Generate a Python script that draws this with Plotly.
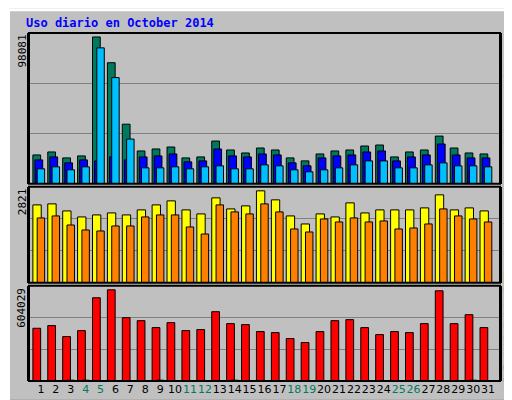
import plotly.graph_objects as go

days = list(range(1, 32))
day_labels = [str(d) for d in days]
weekend = [4, 5, 11, 12, 18, 19, 25, 26]

hits = [18700, 20650, 16780, 18070, 95500, 78730, 38720, 21300, 22590, 23880, 16780, 17420, 27750, 21940, 20000, 23230,
        21940, 16780, 14840, 19360, 21300, 21940, 24520, 25170, 17420, 20650, 21940, 30970, 23230, 20000, 19360]
files = [15490, 17420, 13550, 15490, 14840, 17420, 15490, 17420, 18070, 19360, 14200, 14840, 22590, 18070, 17420, 19360,
         18710, 13550, 11620, 16780, 18070, 18710, 20650, 21300, 14840, 17420, 18710, 25810, 18710, 16780, 16780]
pages = [9680, 10970, 9030, 10970, 88400, 69050, 29040, 10320, 10320, 10970, 9680, 10970, 11620, 9680, 9680, 12260,
         11620, 9030, 7740, 9030, 10320, 12260, 14840, 14840, 10320, 10320, 12260, 13550, 11620, 11620, 10970]
visitors = [2290, 2320, 2113, 1936, 1995, 2054, 1995, 2143, 2290, 2408, 2143, 2025, 2497, 2172, 2261, 2703,
            2438, 1966, 1730, 2025, 1936, 2349, 2054, 2143, 2143, 2143, 2202, 2585, 2143, 2202, 2113]
visits = [1907, 1966, 1700, 1553, 1524, 1671, 1671, 1936, 1995, 1995, 1642, 1435, 2290, 2084, 2025, 2320,
          2084, 1583, 1494, 1877, 1789, 1907, 1789, 1818, 1583, 1612, 1730, 2172, 1966, 1877, 1789]
kb = [334630, 351470, 282020, 319900, 528250, 578770, 401980, 383040, 338840, 370410, 319900, 326210, 439860, 364100,
      357780, 313590, 307270, 269390, 244130, 313590, 383040, 389350, 338840, 294640, 313590, 307270, 364100, 572450,
      364100, 420920, 338840]
kb_small = [0, 0, 5000, 5000, 0, 0, 0, 0, 5000, 0, 0, 0, 0, 5000, 0, 0, 0, 0, 0, 0, 0, 0, 0, 0, 0, 0, 0, 0, 0, 5000, 0]
max_top, max_mid, max_bot = 98081, 2821, 604029

fig = go.Figure()
line = dict(color="black", width=1)

def bar(y, color, off, w, ya):
    fig.add_trace(go.Bar(x=days, y=y, marker=dict(color=color, line=line), offset=off, width=w,
                         xaxis="x", yaxis=ya, showlegend=False, hoverinfo="skip"))

bar(hits, "#007a5e", -0.54, 0.52, "y")
bar(files, "#0000ff", -0.4, 0.52, "y")
bar(pages, "#00bfff", -0.25, 0.5, "y")
bar(visitors, "#ffff00", -0.54, 0.56, "y2")
bar(visits, "#ff8000", -0.25, 0.5, "y2")
bar(kb, "#ff0000", -0.54, 0.52, "y3")
bar(kb_small, "#000000", -0.25, 0.5, "y3")

ticktext = [f"<span style='color:#007a5e'>{t}</span>" if d in weekend else t for d, t in zip(days, day_labels)]
fig.update_layout(
    width=512, height=400, margin=dict(l=21, r=20, t=25, b=24),
    paper_bgcolor="#c0c0c0", plot_bgcolor="#c0c0c0", barmode="overlay",
    font=dict(family="DejaVu Sans Mono", size=11, color="black"),
    xaxis=dict(range=[0.2, 31.8], tickvals=days, ticktext=ticktext, ticks="", showgrid=False, tickangle=0,
               tickfont=dict(family="DejaVu Sans", size=11),
               anchor="y3", showline=False, zeroline=False, fixedrange=True),
)
ax = dict(showticklabels=False, ticks="", gridcolor="#808080", gridwidth=1, zeroline=False,
          showline=True, linecolor="black", linewidth=2, mirror=True)
fig.update_layout(
    yaxis=dict(range=[0, max_top], domain=[0.567, 1], tickvals=[max_top / 3, 2 * max_top / 3], **ax),
    yaxis2=dict(range=[0, max_mid], domain=[0.282, 0.558], tickvals=[max_mid / 3, 2 * max_mid / 3], **ax),
    yaxis3=dict(range=[0, max_bot], domain=[0, 0.2735], tickvals=[max_bot / 3, 2 * max_bot / 3], **ax),
)
for d0, d1 in [(0.567, 1), (0.282, 0.558), (0, 0.2735)]:
    fig.add_shape(type="rect", xref="paper", yref="paper", x0=0, x1=1, y0=d0, y1=d1,
                  line=dict(color="black", width=2), layer="above")

W, H = 471, 351
def px(x): return (x - 21) / W
def py(y): return (376 - y) / H
fig.add_shape(type="line", xref="paper", yref="paper", x0=px(0), x1=px(507), y0=py(1.5), y1=py(1.5),
              line=dict(color="white", width=3))
fig.add_shape(type="line", xref="paper", yref="paper", x0=px(1), x1=px(1), y0=py(0), y1=py(396),
              line=dict(color="white", width=2))
fig.add_shape(type="line", xref="paper", yref="paper", x0=px(509), x1=px(509), y0=py(2), y1=py(400),
              line=dict(color="#808080", width=5))
fig.add_shape(type="line", xref="paper", yref="paper", x0=px(2), x1=px(512), y0=py(397.5), y1=py(397.5),
              line=dict(color="#808080", width=5))

fig.add_annotation(text="<b>Uso diario en October 2014</b>", xref="paper", yref="paper", x=px(16), y=py(15),
                   xanchor="left", yanchor="middle", showarrow=False,
                   font=dict(family="DejaVu Sans Mono", size=12, color="#0000ff"))
for val, top in [(max_top, 25), (max_mid, 180), (max_bot, 280)]:
    fig.add_annotation(text=str(val), textangle=-90, xref="paper", yref="paper", x=px(14), y=py(top),
                       xanchor="center", yanchor="top", showarrow=False,
                       font=dict(family="DejaVu Sans Mono", size=11, color="black"))
labels = [
    ("<span style='color:#00bfff'>Páginas</span> / <span style='color:#0000ff'>Archivos</span> / "
     "<span style='color:#007a5e'>Accesos</span>", 104),
    ("<span style='color:#ff8000'>Clientes</span> / <span style='color:#ffff00'>Visitas</span>", 222),
    ("<span style='color:#ff0000'>kB F</span> / <span style='color:#0000ff'>kB In</span> / "
     "<span style='color:#007a5e'>kB Out</span>", 320),
]
for t, yc in labels:
    fig.add_annotation(text=t, textangle=-90, xref="paper", yref="paper", x=px(500), y=py(yc),
                       xanchor="center", yanchor="middle", showarrow=False, borderpad=0,
                       font=dict(family="DejaVu Sans Mono", size=10))

fig.write_html("out.html")
